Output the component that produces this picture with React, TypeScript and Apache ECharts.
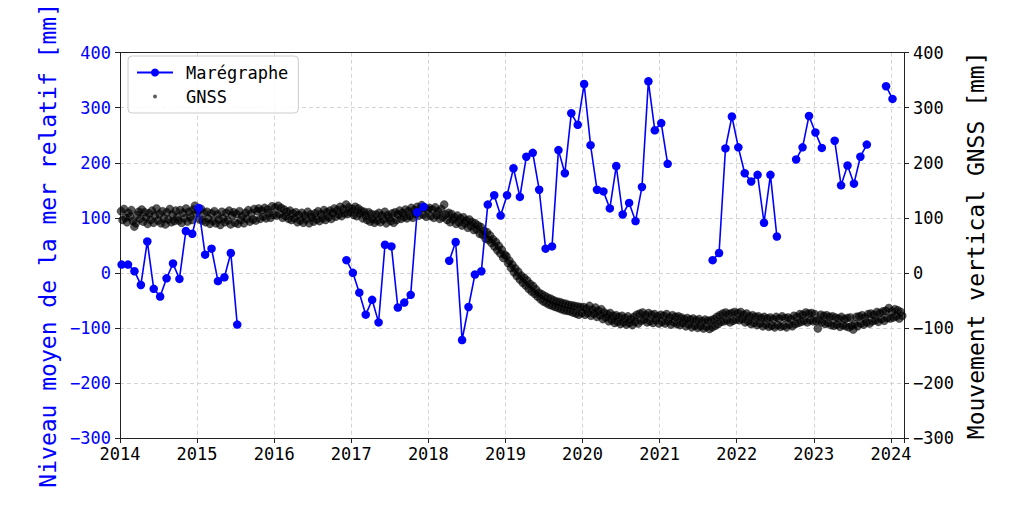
import React, { useEffect, useRef } from "react";
import * as echarts from "echarts";

// ---------- DATA ----------
const xTicksStart = 2014;
const xEnd = 2024.17;
const yMin = -300;
const yMax = 400;
const yStep = 100;

// Monthly tide-gauge values (mm), Jan 2014 .. Jan 2024, null = gap
const maregrapheStartYear = 2014;
const maregraphe: (number | null)[] = [
  // 2014
  15, 15, 3, -22, 57, -29, -43, -10, 17, -11, 76, 71,
  // 2015
  118, 33, 44, -15, -8, 36, -94, null, null, null, null, null,
  // 2016
  null, null, null, null, null, null, null, null, null, null, null, 23,
  // 2017
  0, -36, -76, -49, -90, 51, 48, -63, -54, -40, 110, 120,
  // 2018
  null, null, null, 22, 56, -122, -62, -3, 3, 124, 141, 104,
  // 2019
  141, 190, 138, 211, 218, 151, 44, 48, 223, 181, 290, 269,
  // 2020
  343, 232, 151, 148, 117, 194, 106, 127, 94, 156, 348, 259,
  // 2021
  272, 198, null, null, null, null, null, null, 23, 36, 226, 284,
  // 2022
  228, 181, 166, 178, 91, 178, 66, null, null, 206, 228, 285,
  // 2023
  255, 227, null, 240, 159, 195, 162, 211, 233, null, null, 339,
  // 2024
  316,
];

// Weekly GNSS vertical positions (mm)
const gnss2014 = [
  112, 96, 116, 100, 92, 109, 102, 114, 94, 84, 90, 105, 111,
  98, 115, 93, 110, 101, 89, 108, 96, 113, 91, 104, 117, 95,
  107, 90, 112, 99, 88, 110, 97, 116, 92, 106, 94, 113, 101,
  95, 114, 91, 109, 99, 117, 93, 111, 102, 96, 115, 122, 108,
];
const gnss2015 = [
  113, 97, 116, 95, 109, 92, 111, 98, 89, 108, 94, 112, 90,
  106, 97, 87, 111, 99, 92, 109, 95, 113, 88, 104, 110, 91,
  107, 89, 112, 96, 103, 90, 109, 98, 114, 93, 108, 97, 116,
  95, 112, 117, 98, 113, 102, 118, 99, 115, 109, 100, 121, 105,
];
const gnss2016 = [
  119, 104, 122, 107, 118, 100, 115, 103, 111, 98, 113, 96, 108,
  99, 110, 92, 105, 95, 109, 91, 104, 97, 111, 90, 106, 101,
  93, 108, 97, 112, 94, 107, 99, 114, 96, 110, 101, 113, 98,
  109, 117, 102, 114, 106, 120, 103, 116, 108, 124, 107, 119, 110,
];
const gnss2017 = [
  116, 105, 120, 103, 117, 108, 113, 99, 111, 104, 96, 110, 93,
  107, 98, 91, 106, 95, 109, 92, 104, 97, 111, 90, 105, 100,
  94, 108, 91, 110, 96, 106, 113, 98, 109, 101, 115, 99, 112,
  103, 118, 100, 114, 107, 120, 104, 116, 123, 106, 118, 102, 115,
];
const gnss2018 = [
  118, 103, 115, 100, 119, 105, 112, 98, 116, 101, 124, 106, 96,
  109, 92, 107, 97, 101, 89, 104, 92, 99, 86, 101, 90, 95,
  82, 97, 85, 92, 78, 90, 79, 86, 71, 83, 69, 76, 62,
  74, 60, 68, 54, 61, 48, 56, 41, 49, 35, 42, 27, 33,
];
const gnss2019 = [
  30, 18, 22, 9, 15, 1, 8, -6, 2, -12, -5, -18, -9,
  -23, -14, -29, -20, -34, -24, -38, -30, -43, -36, -48, -39, -52,
  -42, -55, -45, -58, -47, -60, -50, -62, -52, -64, -53, -66, -55,
  -68, -56, -69, -58, -70, -59, -72, -60, -74, -61, -76, -62, -73,
];
const gnss2020 = [
  -62, -76, -65, -73, -60, -78, -67, -74, -63, -80, -69, -77, -66,
  -84, -72, -81, -75, -88, -73, -86, -78, -91, -77, -89, -80, -93,
  -78, -90, -82, -94, -79, -91, -84, -95, -80, -89, -76, -92, -74,
  -87, -72, -85, -77, -90, -73, -88, -76, -91, -75, -86, -79, -92,
];
const gnss2021 = [
  -76, -89, -78, -92, -75, -88, -81, -94, -77, -90, -80, -93, -79,
  -95, -81, -91, -84, -97, -82, -94, -85, -99, -83, -96, -86, -100,
  -84, -97, -88, -101, -85, -98, -87, -102, -86, -99, -84, -96, -80,
  -93, -77, -89, -74, -88, -72, -86, -75, -90, -73, -87, -71, -85,
];
const gnss2022 = [
  -73, -86, -71, -84, -76, -90, -74, -88, -79, -93, -77, -91, -80,
  -95, -79, -92, -82, -97, -80, -94, -83, -98, -81, -96, -84, -99,
  -80, -95, -83, -98, -79, -96, -82, -99, -81, -94, -84, -97, -78,
  -93, -80, -91, -75, -89, -76, -87, -72, -90, -74, -86, -73, -88,
];
const gnss2023 = [
  -75, -88, -101, -86, -76, -90, -78, -93, -77, -91, -80, -95, -79,
  -96, -81, -94, -83, -98, -80, -95, -84, -97, -82, -99, -81, -96,
  -103, -93, -80, -97, -79, -92, -77, -94, -81, -90, -75, -92, -74,
  -88, -76, -86, -71, -89, -73, -84, -70, -87, -69, -82, -64, -83,
];
const gnss2024 = [-70, -81, -66, -79, -68, -83, -71, -78];

const gnssYears: [number, number[]][] = [
  [2014, gnss2014],
  [2015, gnss2015],
  [2016, gnss2016],
  [2017, gnss2017],
  [2018, gnss2018],
  [2019, gnss2019],
  [2020, gnss2020],
  [2021, gnss2021],
  [2022, gnss2022],
  [2023, gnss2023],
  [2024, gnss2024],
];

const FONT = "DejaVu Sans Mono";

export default function App() {
  const ref = useRef<HTMLDivElement>(null);

  useEffect(() => {
    if (!ref.current) return;
    const chart = echarts.init(ref.current, null, { renderer: "svg" });

    const mareData = maregraphe.map((v, i) => [
      maregrapheStartYear + (i + 0.25) / 12,
      v === null ? "-" : v,
    ]);
    const gnssData: number[][] = [];
    gnssYears.forEach(([yr, vals]) => {
      vals.forEach((v, i) => {
        gnssData.push([yr + (i * 7 + 5) / 365.25, v]);
      });
    });

    const minusFmt = (v: number) => String(v).replace("-", "\u2212");
    const gridLine = {
      show: true,
      lineStyle: { color: "#d4d4d4", type: [4, 3] as number[], width: 1 },
    };
    const spine = { color: "#222222", width: 1 };

    chart.setOption({
      animation: false,
      backgroundColor: "#ffffff",
      textStyle: { fontFamily: FONT },
      grid: {
        left: 120,
        right: 120,
        top: 48,
        bottom: 67,
      },
      legend: {
        orient: "vertical",
        left: 128,
        top: 56,
        padding: [8, 10, 8, 8],
        itemGap: 7,
        itemWidth: 36,
        itemHeight: 10,
        backgroundColor: "rgba(255,255,255,0.85)",
        borderColor: "#cccccc",
        borderWidth: 1,
        borderRadius: 4,
        z: 10,
        textStyle: {
          fontFamily: FONT,
          fontSize: 17,
          color: "#000000",
          padding: [0, 0, 0, 8],
        },
        data: [
          { name: "Marégraphe" },
          {
            name: "GNSS",
            icon: "path://M0,0L0,0M100,100L100,100M30,50A20,20,0,1,1,70,50A20,20,0,1,1,30,50Z",
            itemStyle: { color: "#333333", borderWidth: 0 },
          },
        ],
      },
      xAxis: [
        {
          type: "value",
          position: "bottom",
          min: xTicksStart,
          max: xEnd,
          interval: 1,
          axisLine: { show: true, onZero: false, lineStyle: spine },
          axisTick: { show: true, length: 5, lineStyle: spine },
          axisLabel: {
            margin: 7,
            color: "#000000",
            fontSize: 17,
            fontFamily: FONT,
            formatter: (v: number) => (Number.isInteger(v) ? String(v) : ""),
          },
          splitLine: gridLine,
        },
        {
          type: "value",
          position: "top",
          min: xTicksStart,
          max: xEnd,
          interval: 1,
          axisLine: { show: true, onZero: false, lineStyle: spine },
          axisTick: { show: false },
          axisLabel: { show: false },
          splitLine: { show: false },
        },
      ],
      yAxis: [
        {
          type: "value",
          position: "left",
          min: yMin,
          max: yMax,
          interval: yStep,
          name: "Niveau moyen de la mer relatif [mm]",
          nameLocation: "middle",
          nameRotate: 90,
          nameGap: 52,
          nameTextStyle: { color: "#0000ff", fontSize: 23, fontFamily: FONT },
          axisLine: { show: true, onZero: false, lineStyle: spine },
          axisTick: { show: true, length: 5, lineStyle: spine },
          axisLabel: {
            color: "#0000ff",
            fontSize: 17,
            fontFamily: FONT,
            margin: 9,
            formatter: minusFmt,
          },
          splitLine: gridLine,
        },
        {
          type: "value",
          position: "right",
          min: yMin,
          max: yMax,
          interval: yStep,
          name: "Mouvement vertical GNSS [mm]",
          nameLocation: "middle",
          nameRotate: 90,
          nameGap: 52,
          nameTextStyle: { color: "#000000", fontSize: 23, fontFamily: FONT },
          axisLine: { show: true, onZero: false, lineStyle: spine },
          axisTick: { show: true, length: 5, lineStyle: spine },
          axisLabel: {
            color: "#000000",
            fontSize: 17,
            fontFamily: FONT,
            margin: 9,
            formatter: minusFmt,
          },
          splitLine: { show: false },
        },
      ],
      series: [
        {
          name: "GNSS",
          type: "scatter",
          xAxisIndex: 0,
          yAxisIndex: 1,
          data: gnssData,
          symbol: "circle",
          symbolSize: 8,
          itemStyle: {
            color: "rgba(0,0,0,0.82)",
            borderColor: "rgba(0,0,0,0.9)",
            borderWidth: 0.5,
          },
          z: 2,
          silent: true,
        },
        {
          name: "Marégraphe",
          type: "line",
          xAxisIndex: 0,
          yAxisIndex: 0,
          data: mareData,
          connectNulls: false,
          symbol: "circle",
          symbolSize: 8.5,
          showSymbol: true,
          showAllSymbol: true,
          lineStyle: { color: "#0000ff", width: 1.6 },
          itemStyle: { color: "#0000ff", borderWidth: 0 },
          z: 3,
        },
      ],
    });

    return () => chart.dispose();
  }, []);

  return (
    <div
      ref={ref}
      style={{ position: "fixed", left: 0, top: 0, width: 1024, height: 505 }}
    />
  );
}
